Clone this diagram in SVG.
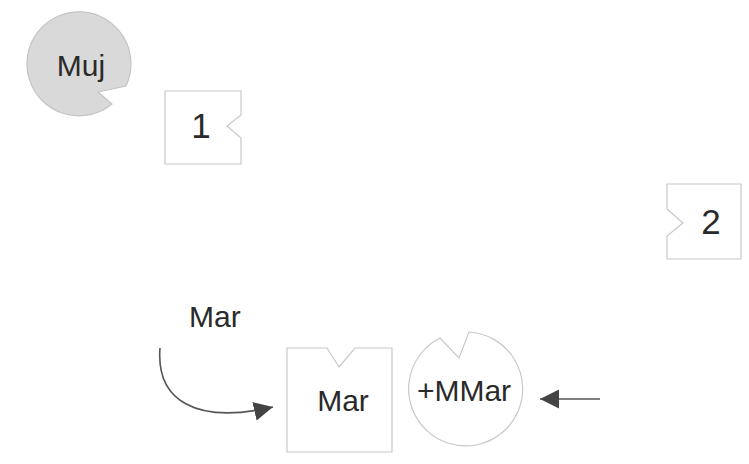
<svg xmlns="http://www.w3.org/2000/svg" width="749" height="464" viewBox="0 0 749 464">
<style>
.shape{fill:#ffffff;stroke:#c8c8c8;stroke-width:1.2}
.gray{fill:#d9d9d9;stroke:#c4c4c4;stroke-width:1.2}
.lbl{font-family:"Liberation Sans",Arial,sans-serif;font-size:30px;fill:#2a2a2a}
.num{font-family:"Liberation Sans",Arial,sans-serif;font-size:35px;fill:#2a2a2a}
.conn{fill:none;stroke:#555555;stroke-width:1.6}
</style>
<defs>
<marker id="ah2" viewBox="0 0 10 10" refX="10" refY="5" markerWidth="19" markerHeight="20" markerUnits="userSpaceOnUse" orient="auto">
<path d="M0,0 L10,5 L0,10 Z" fill="#444444"/>
</marker>
</defs>
<rect width="749" height="464" fill="#ffffff"/>
<g id="node-muj">
<path class="gray" d="M126,86 A52,52 0 1 0 112,104 L98,92 Z"/>
<text class="lbl" x="81" y="76" text-anchor="middle">Muj</text>
</g>
<g id="node-1">
<path class="shape" d="M165,91 L241,91 L241,115 L227,126 L241,138 L241,164 L165,164 Z"/>
<text class="num" x="201" y="138" text-anchor="middle">1</text>
</g>
<g id="node-2">
<path class="shape" d="M667,184 L741,184 L741,259 L667,259 L667,236 L683,223 L667,209 Z"/>
<text class="num" x="711" y="234" text-anchor="middle">2</text>
</g>
<g id="label-mar">
<text class="lbl" x="189" y="327">Mar</text>
</g>
<g id="node-mar">
<path class="shape" d="M287,348 L327,348 L339,367 L355,348 L392,348 L392,452 L287,452 Z"/>
<text class="lbl" x="343" y="411" text-anchor="middle">Mar</text>
</g>
<g id="node-mmar">
<path class="shape" d="M469,332 A57,57 0 1 1 440,338 L459,358 Z"/>
<text class="lbl" x="464" y="401" text-anchor="middle">+MMar</text>
</g>
<g id="connectors">
<path class="conn" d="M160,348 C156,400 195,425 273,407" marker-end="url(#ah2)"/>
<path class="conn" d="M600,399 L540,399" marker-end="url(#ah2)"/>
</g>
</svg>
